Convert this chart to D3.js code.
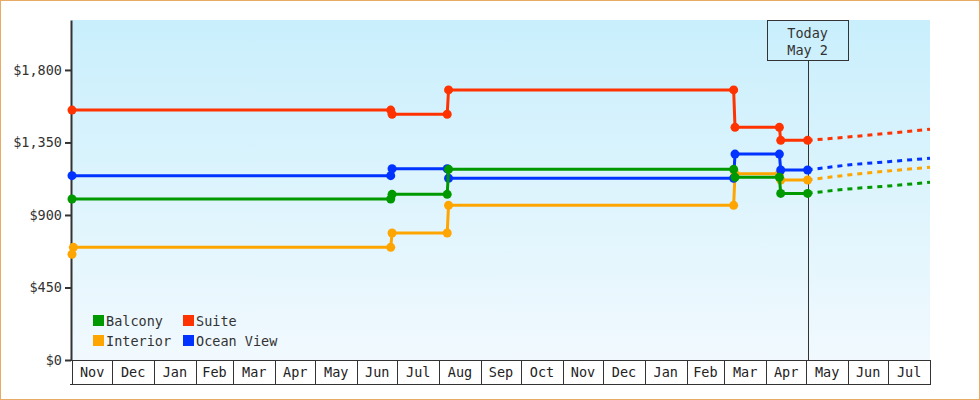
<!DOCTYPE html>
<html>
<head>
<meta charset="utf-8">
<script src="https://cdn.jsdelivr.net/npm/d3@7"></script>
<style>
  body { margin: 0; background: #fff; }
  svg { display: block; font-family: "DejaVu Sans Mono", monospace; }
</style>
</head>
<body>
<svg id="chart"></svg>
<script>
// tick labels
const monthLabels = ["Nov", "Dec", "Jan", "Feb", "Mar", "Apr", "May", "Jun", "Jul", "Aug", "Sep",
  "Oct", "Nov", "Dec", "Jan", "Feb", "Mar", "Apr", "May", "Jun", "Jul"];
const yTicks = [0, 450, 900, 1350, 1800];

// cabins, legend order
const cabins = ["Balcony", "Interior", "Suite", "Ocean View"];
const colors = ["#009900", "#ffa500", "#ff3300", "#0033ff"];

// price history [date, price]
const balconyPrices = [["2016-11-01", 999], ["2017-06-26", 999], ["2017-06-27", 1028], ["2017-08-07", 1028],
  ["2017-08-08", 1183], ["2018-03-08", 1183], ["2018-03-09", 1134], ["2018-04-11", 1134],
  ["2018-04-12", 1034], ["2018-05-02", 1034]];
const interiorPrices = [["2016-11-01", 656], ["2016-11-02", 699], ["2017-06-26", 699], ["2017-06-27", 788],
  ["2017-08-07", 788], ["2017-08-08", 960], ["2018-03-08", 960], ["2018-03-09", 1156],
  ["2018-04-11", 1156], ["2018-04-12", 1117], ["2018-05-02", 1117]];
const suitePrices = [["2016-11-01", 1551], ["2017-06-26", 1551], ["2017-06-27", 1525], ["2017-08-07", 1525],
  ["2017-08-08", 1676], ["2018-03-08", 1676], ["2018-03-09", 1444], ["2018-04-11", 1444],
  ["2018-04-12", 1363], ["2018-05-02", 1363]];
const oceanViewPrices = [["2016-11-01", 1144], ["2017-06-26", 1144], ["2017-06-27", 1187], ["2017-08-07", 1187],
  ["2017-08-08", 1128], ["2018-03-08", 1128], ["2018-03-09", 1278], ["2018-04-11", 1278],
  ["2018-04-12", 1179], ["2018-05-02", 1179]];

// forecast [date, price]
const balconyForecast = [["2018-05-02", 1034], ["2018-06-01", 1061], ["2018-07-01", 1080], ["2018-08-01", 1103]];
const interiorForecast = [["2018-05-02", 1117], ["2018-06-01", 1148], ["2018-07-01", 1173], ["2018-08-01", 1196]];
const suiteForecast = [["2018-05-02", 1363], ["2018-06-01", 1384], ["2018-07-01", 1407], ["2018-08-01", 1432]];
const oceanViewForecast = [["2018-05-02", 1179], ["2018-06-01", 1210], ["2018-07-01", 1231], ["2018-08-01", 1252]];

const today = "2018-05-02";
const xStart = "2016-11-01";
const xEnd = "2018-08-01";
const yMax = 2110;

const parse = d3.timeParse("%Y-%m-%d");
const fontSize = 13.5;

// set dimensions and margins
const width = 980;
const height = 400;
const margin = { top: 20, right: 50, bottom: 40, left: 72 };
const innerWidth = width - margin.left - margin.right;
const innerHeight = height - margin.top - margin.bottom;

const svg = d3.select("#chart").attr("width", width).attr("height", height);

// background gradient
const grad = svg.append("defs").append("linearGradient")
  .attr("id", "bg").attr("x1", 0).attr("y1", 0).attr("x2", 0).attr("y2", 1);
grad.append("stop").attr("offset", "0%").attr("stop-color", "#c9effc");
grad.append("stop").attr("offset", "100%").attr("stop-color", "#f1f9fe");

// outer frame
svg.append("rect")
  .attr("x", 0.5).attr("y", 0.5)
  .attr("width", width - 1).attr("height", height - 1)
  .attr("fill", "none").attr("stroke", "#e9aa66");

const g = svg.append("g").attr("transform", `translate(${margin.left},${margin.top})`);

g.append("rect")
  .attr("width", innerWidth).attr("height", innerHeight)
  .attr("fill", "url(#bg)");

// create x and y scales
const xScale = d3.scaleTime().domain([parse(xStart), parse(xEnd)]).range([0, innerWidth]);
const yScale = d3.scaleLinear().domain([0, yMax]).range([innerHeight, 0]);

// month boxes under the plot
const monthStarts = d3.timeMonth.range(parse(xStart), parse(xEnd));
const months = g.append("g").attr("transform", `translate(0,${innerHeight})`);
months.append("line")
  .attr("x1", -2).attr("x2", innerWidth).attr("y1", 0.5).attr("y2", 0.5)
  .attr("stroke", "#333");
months.append("line")
  .attr("x1", -2).attr("x2", innerWidth).attr("y1", 24.5).attr("y2", 24.5)
  .attr("stroke", "#333");
months.selectAll(".sep").data(monthStarts.concat([parse(xEnd)])).join("line")
  .attr("class", "sep")
  .attr("x1", d => Math.round(xScale(d)) + 0.5).attr("x2", d => Math.round(xScale(d)) + 0.5)
  .attr("y1", 0).attr("y2", 25)
  .attr("stroke", "#333");
months.selectAll("text").data(monthStarts).join("text")
  .attr("x", d => (xScale(d) + xScale(d3.timeMonth.offset(d, 1))) / 2)
  .attr("y", 17)
  .attr("text-anchor", "middle")
  .attr("font-size", fontSize)
  .attr("fill", "#222")
  .text((d, i) => monthLabels[i]);

// add y axis
const yAxis = g.append("g").attr("transform", "translate(-1,0)")
  .call(d3.axisLeft(yScale).tickValues(yTicks).tickSize(6).tickSizeOuter(0).tickPadding(3)
    .tickFormat(d => "$" + d3.format(",")(d)));
yAxis.select(".domain").attr("stroke", "#333").attr("stroke-width", 2);
yAxis.selectAll(".tick line").attr("stroke", "#333").attr("stroke-width", 2);
yAxis.selectAll(".tick text").attr("font-size", fontSize).attr("fill", "#333")
  .attr("font-family", "DejaVu Sans Mono, monospace");

// today marker
const tx = xScale(parse(today));
g.append("line")
  .attr("x1", Math.round(tx) + 0.5).attr("x2", Math.round(tx) + 0.5)
  .attr("y1", 40).attr("y2", innerHeight)
  .attr("stroke", "#333");
g.append("rect")
  .attr("x", Math.round(tx) - 41 + 0.5).attr("y", 0.5)
  .attr("width", 81).attr("height", 40)
  .attr("fill", "none").attr("stroke", "#333");
g.append("text")
  .attr("x", tx).attr("y", 17.5).attr("text-anchor", "middle")
  .attr("font-size", fontSize).attr("fill", "#333").text("Today");
g.append("text")
  .attr("x", tx).attr("y", 35).attr("text-anchor", "middle")
  .attr("font-size", fontSize).attr("fill", "#333").text("May 2");

// series, drawing order
const history = { "Balcony": balconyPrices, "Interior": interiorPrices, "Suite": suitePrices, "Ocean View": oceanViewPrices };
const forecast = { "Balcony": balconyForecast, "Interior": interiorForecast, "Suite": suiteForecast, "Ocean View": oceanViewForecast };
const drawOrder = ["Interior", "Ocean View", "Balcony", "Suite"];

const line = d3.line().x(d => xScale(parse(d[0]))).y(d => yScale(d[1]));
const dashLine = d3.line().x(d => xScale(parse(d[0]))).y(d => yScale(d[1])).curve(d3.curveMonotoneX);

drawOrder.forEach(name => {
  const color = colors[cabins.indexOf(name)];
  g.append("path")
    .attr("d", dashLine(forecast[name]))
    .attr("fill", "none").attr("stroke", color)
    .attr("stroke-width", 3).attr("stroke-dasharray", "5,5");
});

drawOrder.forEach(name => {
  const color = colors[cabins.indexOf(name)];
  g.append("path")
    .attr("d", line(history[name]))
    .attr("fill", "none").attr("stroke", color)
    .attr("stroke-width", 3).attr("stroke-linejoin", "round");
  g.selectAll(null).data(history[name]).join("circle")
    .attr("cx", d => xScale(parse(d[0])))
    .attr("cy", d => yScale(d[1]))
    .attr("r", 4.5)
    .attr("fill", color);
});

// add legend
const legend = g.append("g").attr("transform", "translate(21,295)");
cabins.forEach((name, i) => {
  const col = Math.floor(i / 2);
  const row = i % 2;
  const item = legend.append("g").attr("transform", `translate(${col * 90},${row * 20})`);
  item.append("rect").attr("width", 11).attr("height", 11).attr("fill", colors[i]);
  item.append("text")
    .attr("x", 13).attr("y", 10.5)
    .attr("font-size", fontSize).attr("fill", "#333")
    .text(name);
});
</script>
</body>
</html>
